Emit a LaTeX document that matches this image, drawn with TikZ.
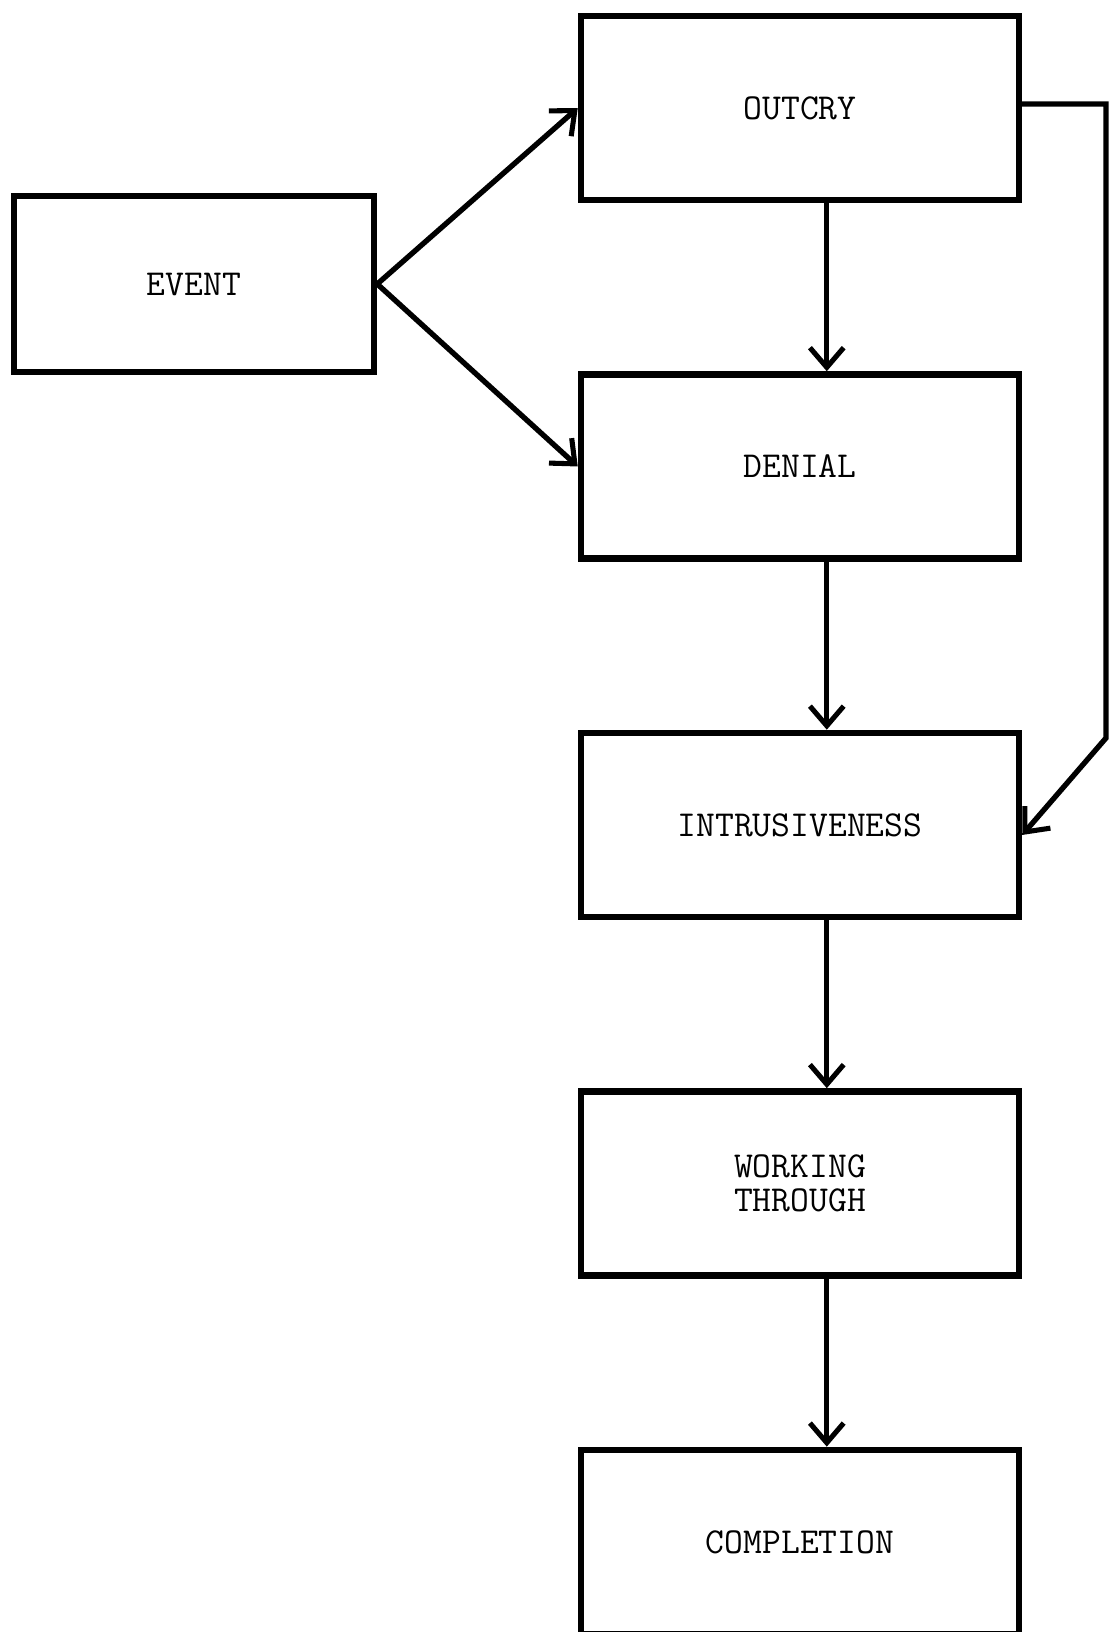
\documentclass[tikz,border=0pt]{standalone}
\usepackage{xcolor}
\usepackage{tikz}
\usetikzlibrary{arrows.meta, positioning}

\begin{document}
\begin{tikzpicture}[
  box/.style={draw, line width=4.6pt, align=center, minimum height=4.6cm, inner sep=0pt},
  stagebox/.style={box, minimum width=10.95cm},
  eventbox/.style={box, minimum width=9.0cm, minimum height=4.4cm},
  flow/.style={line width=3.8pt, -{Straight Barb[length=14pt, width=24pt, line width=3.6pt]}},
  font=\fontsize{26}{24}\selectfont\ttfamily
]
\useasboundingbox (0,0) rectangle (27.75,-40.8);

% Left: the event
\node[eventbox] (event) at (4.85,-7.1) {EVENT};

% Right: the stages, one under the other
\node[stagebox] (outcry) at (20,-2.7) {OUTCRY};
\node[stagebox, below=4.2cm of outcry] (denial) {DENIAL};
\node[stagebox, below=4.2cm of denial] (intrusion) {INTRUSIVENESS};
\node[stagebox, below=4.2cm of intrusion] (working) {WORKING\\THROUGH};
\node[stagebox, below=4.2cm of working] (completion) {COMPLETION};

% Arrows
\draw[flow] (event.east) -- (outcry.west);
\draw[flow] (event.east) -- (denial.west);
\draw[flow] ([xshift=0.67cm]outcry.south) -- ([xshift=0.67cm]denial.north);
\draw[flow] ([xshift=0.67cm]denial.south) -- ([xshift=0.67cm]intrusion.north);
\draw[flow] ([xshift=0.67cm]intrusion.south) -- ([xshift=0.67cm]working.north);
\draw[flow] ([xshift=0.67cm]working.south) -- ([xshift=0.67cm]completion.north);

% Feedback from outcry to intrusiveness
\coordinate (fbtop) at (27.65,-2.6);
\coordinate (fbbot) at (27.65,-18.45);
\draw[flow] (outcry.east |- fbtop) -- (fbtop) -- (fbbot) -- ([yshift=-0.25cm]intrusion.east);

\end{tikzpicture}
\end{document}
